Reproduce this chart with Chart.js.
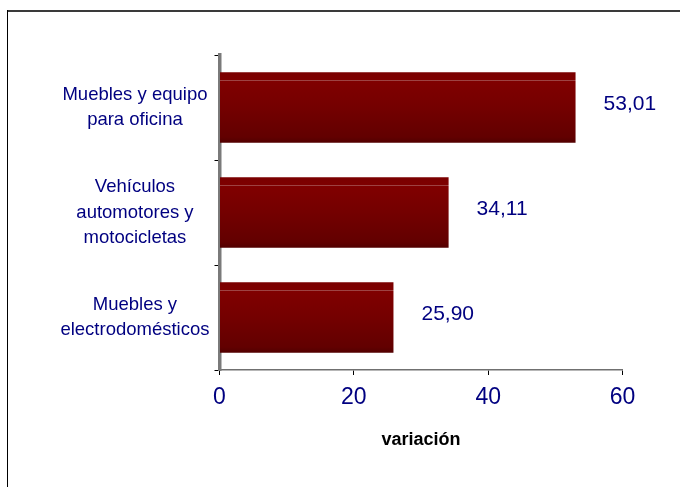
<!DOCTYPE html>
<html>
<head>
<meta charset="utf-8">
<script src="https://cdn.jsdelivr.net/npm/chart.js@4/dist/chart.umd.min.js"></script>
<style>
  html, body { margin: 0; padding: 0; background: #fff; }
  canvas { display: block; }
</style>
</head>
<body>
<canvas id="chart" width="680" height="487"></canvas>
<script>
(function () {
    var categories = [
        ["Muebles y equipo", "para oficina"],
        ["Vehículos", "automotores y", "motocicletas"],
        ["Muebles y", "electrodomésticos"]
    ];
    var variacion = [53.01, 34.11, 25.90];
    var xTicks = [0, 20, 40, 60];
    var axisTitle = "variación";

    var barPct = 0.67;
    var navy = "#000080";

    // vertical red gradient for each bar, from the y scale of the chart
    function barFill(ctx) {
        var chart = ctx.chart;
        var area = chart.chartArea;
        var ys = chart.scales.y;
        if (!area || !ys || ctx.dataIndex == null) return "#700000";
        var c = ys.getPixelForValue(ctx.dataIndex);
        var half = (area.height / categories.length) * barPct / 2;
        var g = chart.ctx.createLinearGradient(0, c - half, 0, c + half);
        g.addColorStop(0, "#7a0000");
        g.addColorStop(0.105, "#7e0000");
        g.addColorStop(0.115, "#a04848");
        g.addColorStop(0.13, "#800000");
        g.addColorStop(0.5, "#740000");
        g.addColorStop(0.92, "#620000");
        g.addColorStop(1, "#520000");
        return g;
    }

    var frame = {
        id: "frame",
        beforeDraw: function (chart) {
            var c = chart.ctx;
            c.save();
            c.fillStyle = "#fff";
            c.fillRect(0, 0, chart.width, chart.height);
            c.strokeStyle = "#3a3a3a";
            c.lineWidth = 2;
            c.beginPath();
            c.moveTo(7, 11);
            c.lineTo(chart.width + 5, 11);
            c.stroke();
            c.strokeStyle = "#000";
            c.lineWidth = 1;
            c.beginPath();
            c.moveTo(7.5, 10);
            c.lineTo(7.5, chart.height + 5);
            c.stroke();
            c.restore();
        }
    };

    var valueLabels = {
        id: "valueLabels",
        afterDatasetsDraw: function (chart) {
            var c = chart.ctx;
            var meta = chart.getDatasetMeta(0);
            c.save();
            c.fillStyle = navy;
            c.font = "21px 'Liberation Sans', Arial, sans-serif";
            c.textAlign = "left";
            c.textBaseline = "middle";
            meta.data.forEach(function (bar, i) {
                var txt = variacion[i].toFixed(2).replace(".", ",");
                c.fillText(txt, bar.x + 28, bar.y - 3);
            });
            c.restore();
        }
    };

    var ctx = document.getElementById("chart").getContext("2d");
    new Chart(ctx, {
        type: "bar",
        data: {
            labels: categories,
            datasets: [{
                data: variacion,
                backgroundColor: barFill,
                borderWidth: 0,
                barPercentage: barPct,
                categoryPercentage: 1
            }]
        },
        options: {
            indexAxis: "y",
            responsive: false,
            animation: false,
            layout: { padding: { left: 10, right: 57.5, top: 55, bottom: 36 } },
            plugins: {
                legend: { display: false },
                tooltip: { enabled: false }
            },
            scales: {
                x: {
                    min: 0,
                    max: 60,
                    afterBuildTicks: function (s) {
                        s.ticks = xTicks.map(function (v) { return { value: v }; });
                    },
                    afterFit: function (s) { s.height = 81; },
                    grid: { drawOnChartArea: false, tickLength: 5, color: "#000" },
                    border: { color: "#707070", width: 1.5 },
                    ticks: {
                        color: navy,
                        padding: 9,
                        maxRotation: 0,
                        font: { family: "'Liberation Sans', Arial, sans-serif", size: 23 }
                    },
                    title: {
                        display: true,
                        text: axisTitle,
                        color: "#000",
                        padding: 0,
                        font: { family: "'Liberation Sans', Arial, sans-serif", size: 18, weight: "bold" }
                    }
                },
                y: {
                    afterFit: function (s) { s.width = 209.5; },
                    grid: { drawOnChartArea: false, offset: true, tickLength: 5, color: "#000" },
                    border: { color: "#7a7a7a", width: 3.5 },
                    ticks: {
                        color: navy,
                        padding: 5,
                        crossAlign: "center",
                        font: { family: "'Liberation Sans', Arial, sans-serif", size: 18.5, lineHeight: 1.36 }
                    }
                }
            }
        },
        plugins: [frame, valueLabels]
    });
})();
</script>
</body>
</html>
